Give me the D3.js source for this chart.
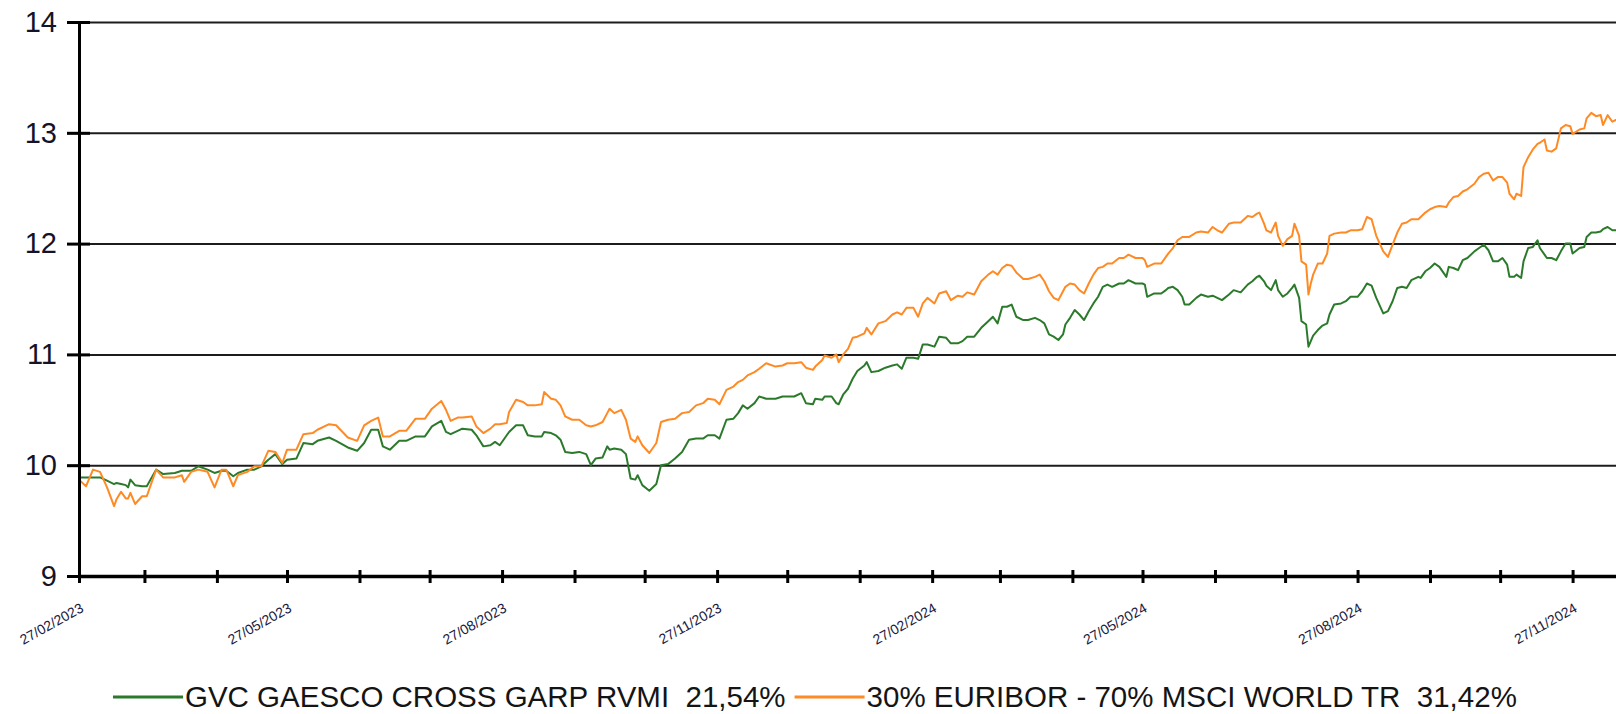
<!DOCTYPE html>
<html>
<head>
<meta charset="utf-8">
<script src="https://cdn.jsdelivr.net/npm/d3@7"></script>
<style>
  html, body { margin: 0; padding: 0; background: #ffffff; }
  svg { display: block; font-family: "Liberation Sans", Arial, Helvetica, sans-serif; }
</style>
</head>
<body>
<svg id="chart" width="1616" height="714"></svg>
<script>
// ---------------- DATA ----------------
const startDate = "2023-02-27";
const endDate = "2024-12-16";

// days since startDate for each observation
const dayOffsets = [
  0,3,6,9,12,15,16,18,20,21,22,24,27,29,33,36,41,44,45,48,51,55,58,61,63,66,68,72,75,78,81,84,87,89,93,96,100,102,107,110,115,119,122,125,128,130,133,137,140,144,148,151,155,157,159,162,
  164,168,170,173,176,178,180,183,184,187,190,192,195,198,199,202,204,206,208,211,214,217,219,221,224,226,227,229,232,234,236,238,239,241,244,247,249,252,255,258,261,264,267,269,272,274,277,280,282,284,286,289,291,294,298,301,303,306,309,311,314,315,318,319,322,324,
  325,327,329,331,333,336,337,339,342,345,348,350,352,354,357,359,361,363,366,368,371,373,376,378,380,383,386,389,391,393,395,397,399,401,404,406,409,411,413,415,417,419,421,422,424,426,428,430,432,434,436,438,440,442,445,447,449,452,455,456,457,460,463,465,466,468,470,472,473,475,478,480,483,485,487,
  489,492,494,497,500,502,504,505,507,508,510,512,513,515,517,519,520,522,523,525,526,527,528,530,532,534,535,537,540,542,544,547,549,551,553,555,558,560,562,564,566,568,570,573,574,576,578,580,582,585,586,588,590,592,594,597,599,601,603,605,607,609,611,612,614,615,617,618,620,622,624,625,627,628,630,632,634,636,638,639,642,644,645,647,649,651,652,654,656,658
];

// GVC GAESCO CROSS GARP RVMI
const fundValues = [
  9.89,9.89,9.89,9.89,9.86,9.83,9.84,9.83,9.82,9.80,9.87,9.82,9.81,9.81,9.96,9.92,9.93,9.95,9.95,9.95,9.99,9.96,9.93,9.95,9.95,9.90,9.93,9.96,9.96,9.99,10.05,10.10,10.01,10.05,10.06,10.20,10.19,10.22,10.25,10.22,10.16,10.13,10.20,10.32,10.32,10.17,10.14,10.22,10.22,10.26,10.26,10.35,10.40,10.30,10.28,10.31,
  10.33,10.32,10.27,10.17,10.18,10.21,10.18,10.27,10.30,10.36,10.36,10.27,10.26,10.26,10.30,10.29,10.27,10.23,10.12,10.11,10.12,10.10,10.00,10.06,10.07,10.17,10.14,10.15,10.14,10.10,9.88,9.87,9.91,9.82,9.77,9.83,10.00,10.01,10.06,10.12,10.23,10.24,10.24,10.27,10.27,10.24,10.41,10.42,10.47,10.54,10.51,10.56,10.62,10.60,10.60,10.62,10.62,10.62,10.65,10.56,10.55,10.60,10.59,10.62,10.62,10.56,
  10.55,10.64,10.69,10.78,10.85,10.90,10.93,10.84,10.85,10.88,10.90,10.91,10.87,10.97,10.97,10.96,11.09,11.09,11.07,11.16,11.15,11.10,11.10,11.12,11.16,11.16,11.24,11.30,11.34,11.28,11.43,11.43,11.45,11.34,11.31,11.31,11.33,11.31,11.28,11.18,11.16,11.13,11.18,11.27,11.33,11.40,11.36,11.31,11.39,11.46,11.52,11.61,11.63,11.61,11.64,11.64,11.67,11.64,11.64,11.63,11.52,11.55,11.55,11.58,11.60,11.61,11.58,11.52,11.45,11.45,11.51,11.54,11.52,11.53,11.51,
  11.49,11.54,11.58,11.56,11.63,11.66,11.70,11.71,11.66,11.62,11.58,11.67,11.58,11.52,11.55,11.60,11.63,11.51,11.30,11.27,11.07,11.12,11.17,11.22,11.26,11.28,11.36,11.45,11.46,11.48,11.52,11.52,11.57,11.64,11.62,11.51,11.37,11.39,11.48,11.60,11.61,11.60,11.67,11.70,11.69,11.75,11.78,11.82,11.79,11.70,11.79,11.78,11.76,11.85,11.87,11.93,11.96,11.99,11.94,11.84,11.84,11.87,11.81,11.70,11.70,11.72,11.69,11.84,11.96,11.97,12.03,11.96,11.90,11.87,11.87,11.85,11.93,12.00,12.00,11.91,11.96,11.97,12.06,12.10,12.10,12.11,12.13,12.15,12.12,12.12
];

// 30% EURIBOR - 70% MSCI WORLD TR
const benchmarkValues = [
  9.87,9.81,9.96,9.94,9.80,9.63,9.69,9.76,9.70,9.70,9.75,9.65,9.72,9.72,9.96,9.89,9.89,9.91,9.85,9.94,9.96,9.94,9.80,9.96,9.96,9.81,9.91,9.94,9.99,9.99,10.13,10.12,10.02,10.14,10.14,10.28,10.29,10.32,10.37,10.36,10.25,10.22,10.36,10.40,10.43,10.26,10.26,10.31,10.31,10.42,10.42,10.51,10.58,10.50,10.40,10.43,
  10.43,10.44,10.35,10.29,10.33,10.37,10.37,10.38,10.48,10.59,10.57,10.54,10.54,10.55,10.66,10.60,10.59,10.54,10.44,10.41,10.41,10.36,10.35,10.36,10.39,10.47,10.51,10.47,10.50,10.41,10.24,10.21,10.26,10.18,10.11,10.20,10.39,10.41,10.42,10.47,10.48,10.54,10.56,10.60,10.59,10.55,10.68,10.71,10.75,10.77,10.81,10.84,10.87,10.92,10.89,10.90,10.92,10.92,10.93,10.88,10.86,10.89,10.95,10.99,10.97,11.00,
  10.93,11.00,11.05,11.15,11.16,11.19,11.24,11.18,11.28,11.30,11.36,11.38,11.36,11.42,11.42,11.34,11.46,11.51,11.46,11.55,11.57,11.49,11.53,11.52,11.56,11.54,11.66,11.72,11.75,11.72,11.78,11.81,11.80,11.74,11.68,11.68,11.70,11.72,11.66,11.57,11.51,11.49,11.57,11.61,11.64,11.63,11.58,11.55,11.64,11.72,11.78,11.79,11.82,11.82,11.87,11.87,11.90,11.87,11.87,11.85,11.79,11.82,11.82,11.88,11.91,11.96,12.03,12.06,12.06,12.06,12.10,12.11,12.10,12.15,12.12,
  12.10,12.18,12.19,12.19,12.25,12.24,12.27,12.28,12.18,12.12,12.10,12.19,12.07,11.98,12.04,12.07,12.18,12.07,11.84,11.81,11.54,11.64,11.72,11.82,11.82,11.91,12.07,12.09,12.10,12.10,12.12,12.12,12.13,12.24,12.22,12.07,11.93,11.88,11.99,12.10,12.18,12.19,12.22,12.22,12.24,12.28,12.31,12.33,12.34,12.33,12.37,12.42,12.43,12.47,12.49,12.54,12.60,12.63,12.64,12.57,12.60,12.60,12.55,12.45,12.40,12.45,12.43,12.69,12.78,12.85,12.90,12.91,12.94,12.84,12.83,12.86,13.04,13.07,13.06,12.99,13.03,13.04,13.13,13.18,13.15,13.16,13.07,13.16,13.10,13.12
];

const yTickValues = [9, 10, 11, 12, 13, 14];
const gridValues = [10, 11, 12, 13, 14];

const xTickDates = [
  "2023-02-27","2023-03-27","2023-04-27","2023-05-27","2023-06-27","2023-07-27",
  "2023-08-27","2023-09-27","2023-10-27","2023-11-27","2023-12-27","2024-01-27",
  "2024-02-27","2024-03-27","2024-04-27","2024-05-27","2024-06-27","2024-07-27",
  "2024-08-27","2024-09-27","2024-10-27","2024-11-27"
];
const xLabelDates = [
  "2023-02-27","2023-05-27","2023-08-27","2023-11-27",
  "2024-02-27","2024-05-27","2024-08-27","2024-11-27"
];

const seriesNames = [
  "GVC GAESCO CROSS GARP RVMI  21,54%",
  "30% EURIBOR - 70% MSCI WORLD TR  31,42%"
];
const seriesColors = ["#2b7a2b", "#ff8a24"];

// ---------------- CHART ----------------
const W = 1616, H = 714;
const plot = { left: 79, right: 1617, top: 22, bottom: 576 };

const parse = d3.timeParse("%Y-%m-%d");
const fmt = d3.timeFormat("%d/%m/%Y");
const start = parse(startDate);
const dates = dayOffsets.map(d => d3.timeDay.offset(start, d));

const x = d3.scaleTime().domain([start, parse(endDate)]).range([plot.left, plot.right]);
const y = d3.scaleLinear().domain([9, 14]).range([plot.bottom, plot.top]);

const svg = d3.select("#chart");
svg.append("rect").attr("width", W).attr("height", H).attr("fill", "#fff");

// gridlines
svg.append("g")
  .attr("transform", `translate(${plot.left - 12},0)`)
  .call(d3.axisRight(y).tickValues(gridValues).tickSize(W - plot.left + 12).tickFormat(""))
  .call(g => g.select(".domain").remove())
  .call(g => g.selectAll("line").attr("stroke", "#1c1c1c").attr("stroke-width", 2));

// series lines
svg.append("clipPath").attr("id", "plotclip")
  .append("rect").attr("x", plot.left).attr("y", 0).attr("width", W - plot.left).attr("height", plot.bottom);

const n = Math.min(dates.length, fundValues.length, benchmarkValues.length);
const series = [fundValues, benchmarkValues];
const line = d3.line().x(d => x(d[0])).y(d => y(d[1]));
series.forEach((vals, i) => {
  const pts = d3.range(n).map(k => [dates[k], vals[k]]);
  svg.append("path")
    .datum(pts)
    .attr("clip-path", "url(#plotclip)")
    .attr("fill", "none")
    .attr("stroke", seriesColors[i])
    .attr("stroke-width", 2)
    .attr("stroke-linejoin", "round")
    .attr("d", line);
});

// y axis
svg.append("g")
  .attr("transform", `translate(${plot.left},0)`)
  .call(d3.axisLeft(y).tickValues(yTickValues).tickSize(12).tickSizeOuter(0).tickPadding(10).tickFormat(d3.format("d")))
  .call(g => g.select(".domain").attr("stroke", "#000").attr("stroke-width", 3))
  .call(g => g.selectAll(".tick line").attr("x1", 11).attr("stroke", "#000").attr("stroke-width", 3))
  .call(g => g.selectAll(".tick text")
    .attr("font-size", 29)
    .attr("font-family", "'Liberation Sans', Arial, sans-serif")
    .attr("fill", "#141428"));

// x axis
const labelSet = new Set(xLabelDates);
svg.append("g")
  .attr("transform", `translate(0,${plot.bottom})`)
  .call(d3.axisBottom(x).tickValues(xTickDates.map(parse)).tickSize(7).tickSizeOuter(0)
    .tickFormat(d => labelSet.has(d3.timeFormat("%Y-%m-%d")(d)) ? fmt(d) : ""))
  .call(g => g.select(".domain").attr("stroke", "#000").attr("stroke-width", 3.5))
  .call(g => g.selectAll(".tick line").attr("y1", -6).attr("stroke", "#000").attr("stroke-width", 3))
  .call(g => g.selectAll(".tick text")
    .attr("font-size", 14)
    .attr("font-family", "'Liberation Sans', Arial, sans-serif")
    .attr("fill", "#1a1a40")
    .attr("text-anchor", "end")
    .attr("y", 0).attr("dy", 0)
    .attr("transform", "translate(5,35) rotate(-29)"));

// legend
const legend = svg.append("g").attr("transform", "translate(113,0)");
let lx = 0;
seriesNames.forEach((name, i) => {
  legend.append("line")
    .attr("x1", lx).attr("x2", lx + 70)
    .attr("y1", 697).attr("y2", 697)
    .attr("stroke", seriesColors[i]).attr("stroke-width", 3);
  const t = legend.append("text")
    .attr("x", lx + 72).attr("y", 707)
    .attr("font-size", 29.5)
    .attr("fill", "#141414")
    .style("white-space", "pre")
    .text(name);
  lx += 72 + t.node().getComputedTextLength() + 9;
});
</script>
</body>
</html>
